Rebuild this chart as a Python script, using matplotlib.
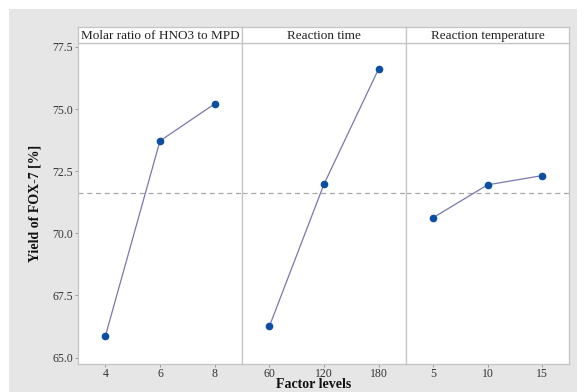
import matplotlib
matplotlib.use("Agg")
import matplotlib.pyplot as plt
from matplotlib.patches import Rectangle

factors = ["Molar ratio of HNO3 to MPD", "Reaction time", "Reaction temperature"]
levels = [["4", "6", "8"], ["60", "120", "180"], ["5", "10", "15"]]
means = [[65.86, 73.72, 75.21], [66.25, 71.98, 76.62], [70.63, 71.95, 72.32]]
grand_mean = 71.64
yticks = [65.0, 67.5, 70.0, 72.5, 75.0, 77.5]

W, H = 587, 392
fig = plt.figure(figsize=(W / 100, H / 100), dpi=100)
fig.patch.set_facecolor("white")
bg = Rectangle((9 / W, 0), (577 - 9) / W, 1 - 9 / H, transform=fig.transFigure,
               facecolor="#e6e6e6", edgecolor="none", zorder=-10)
fig.add_artist(bg)

serif = ["Liberation Serif", "DejaVu Serif"]
edges = [78, 242, 406, 569]
top, bottom, strip_top = 43, 364, 27
border = "#c4c4c4"
line_c = "#7a78ad"
mark_c = "#0b4ea2"

for i in range(3):
    l, r = edges[i], edges[i + 1]
    ax = fig.add_axes([l / W, 1 - bottom / H, (r - l) / W, (bottom - top) / H])
    ax.set_facecolor("white")
    xs = list(range(len(levels[i])))
    ax.axhline(grand_mean, color="#a8a8a8", lw=0.9, ls=(0, (4, 3)), zorder=1)
    ax.plot(xs, means[i], color=line_c, lw=0.9, zorder=2)
    ax.plot(xs, means[i], "o", color=mark_c, ms=4.5, zorder=3)
    ax.set_xlim(-0.5, 2.5)
    ax.set_ylim(64.74, 77.66)
    ax.set_xticks(xs)
    ax.set_xticklabels(levels[i], family=serif, fontsize=8.5, color="#333333")
    for s in ax.spines.values():
        s.set_color(border)
        s.set_linewidth(0.9)
    ax.tick_params(axis="x", length=2, width=0.7, color="#999999", pad=0.8)
    if i == 0:
        ax.set_yticks(yticks)
        ax.set_yticklabels([f"{v:.1f}" for v in yticks], family=serif, fontsize=8.5, color="#333333")
        ax.tick_params(axis="y", length=2, width=0.7, color="#999999", pad=1.5)
    else:
        ax.set_yticks([])
    sax = fig.add_axes([l / W, 1 - top / H, (r - l) / W, (top - strip_top) / H])
    sax.set_facecolor("white")
    sax.set_xticks([])
    sax.set_yticks([])
    for s in sax.spines.values():
        s.set_color(border)
        s.set_linewidth(0.9)
    sax.text(0.5, 0.45, factors[i], ha="center", va="center", family=serif, fontsize=9.5,
             color="#222222", transform=sax.transAxes)

fig.text(35 / W, 1 - 203 / H, "Yield of FOX-7 [%]", rotation=90, ha="center", va="center",
         family=serif, fontsize=10, fontweight="bold", color="#111111")
fig.text(314 / W, 1 - 391.5 / H, "Factor levels", ha="center", va="bottom",
         family=serif, fontsize=10, fontweight="bold", color="#111111")

fig.savefig("out.png", dpi=100)
